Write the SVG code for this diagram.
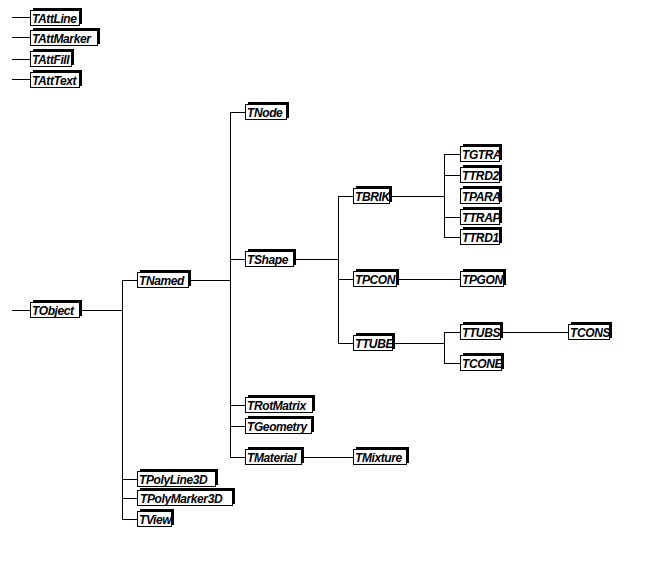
<svg xmlns="http://www.w3.org/2000/svg" width="645" height="573" viewBox="0 0 645 573">
<style>
.sh{fill:#000}
.bx{fill:#fff;stroke:#000;stroke-width:1}
.t{font-family:"Liberation Sans",Arial,sans-serif;font-style:italic;font-weight:bold;font-size:12px;fill:#000;letter-spacing:-0.4px}
.c{fill:none;stroke:#000;stroke-width:1}
</style>
<rect width="645" height="573" fill="#fff"/>
<g id="connectors" class="c">
<path d="M12 17.5H30M12 37.5H30M12 59.5H30M12 79.5H30"/>
<path d="M12 310.5H30M80 310.5H122.5M122.5 280V519M122 280.5H137M122 479.5H137M122 498.5H137M122 519.5H137"/>
<path d="M189 280.5H230.5M230.5 112V457M230 112.5H245M230 259.5H245M230 405.5H245M230 426.5H245M230 457.5H245M302 457.5H353"/>
<path d="M294 259.5H338.5M338.5 196V343M338 196.5H353M338 279.5H353M338 343.5H353M397 279.5H460"/>
<path d="M390 196.5H444.5M444.5 154V237M444 154.5H460M444 175.5H460M444 217.5H460M444 237.5H460"/>
<path d="M393 343.5H444.5M444.5 332V363M444 332.5H460M444 363.5H460M501 332.5H568"/>
</g>
<g id="TAttLine"><rect class="sh" x="33" y="8" width="49" height="16"/><rect class="bx" x="30.5" y="10.5" width="49" height="15"/><text class="t" x="32" y="22.5">TAttLine</text></g>
<g id="TAttMarker"><rect class="sh" x="33" y="28" width="67" height="16"/><rect class="bx" x="30.5" y="30.5" width="67" height="15"/><text class="t" x="32" y="42.5">TAttMarker</text></g>
<g id="TAttFill"><rect class="sh" x="33" y="49" width="41" height="16"/><rect class="bx" x="30.5" y="51.5" width="41" height="15"/><text class="t" x="32" y="63.5">TAttFill</text></g>
<g id="TAttText"><rect class="sh" x="33" y="70" width="49" height="16"/><rect class="bx" x="30.5" y="72.5" width="49" height="15"/><text class="t" x="32" y="84.5">TAttText</text></g>
<g id="TObject"><rect class="sh" x="33" y="300" width="49" height="16"/><rect class="bx" x="30.5" y="302.5" width="49" height="15"/><text class="t" x="32" y="314.5">TObject</text></g>
<g id="TNamed"><rect class="sh" x="140" y="270" width="51" height="16"/><rect class="bx" x="137.5" y="272.5" width="51" height="15"/><text class="t" x="139" y="284.5">TNamed</text></g>
<g id="TPolyLine3D"><rect class="sh" x="140" y="469" width="78" height="16"/><rect class="bx" x="137.5" y="471.5" width="78" height="15"/><text class="t" x="139" y="483.5">TPolyLine3D</text></g>
<g id="TPolyMarker3D"><rect class="sh" x="140" y="488" width="95" height="16"/><rect class="bx" x="137.5" y="490.5" width="95" height="15"/><text class="t" x="140" y="502.5">TPolyMarker3D</text></g>
<g id="TView"><rect class="sh" x="140" y="509" width="34" height="16"/><rect class="bx" x="137.5" y="511.5" width="34" height="15"/><text class="t" x="139" y="523.5">TView</text></g>
<g id="TNode"><rect class="sh" x="248" y="102" width="41" height="16"/><rect class="bx" x="245.5" y="104.5" width="41" height="15"/><text class="t" x="247" y="116.5">TNode</text></g>
<g id="TShape"><rect class="sh" x="248" y="249" width="48" height="16"/><rect class="bx" x="245.5" y="251.5" width="48" height="15"/><text class="t" x="247" y="263.5">TShape</text></g>
<g id="TRotMatrix"><rect class="sh" x="248" y="395" width="67" height="16"/><rect class="bx" x="245.5" y="397.5" width="67" height="15"/><text class="t" x="247" y="409.5">TRotMatrix</text></g>
<g id="TGeometry"><rect class="sh" x="248" y="416" width="66" height="16"/><rect class="bx" x="245.5" y="418.5" width="66" height="15"/><text class="t" x="247" y="430.5">TGeometry</text></g>
<g id="TMaterial"><rect class="sh" x="248" y="447" width="56" height="16"/><rect class="bx" x="245.5" y="449.5" width="56" height="15"/><text class="t" x="247" y="461.5">TMaterial</text></g>
<g id="TMixture"><rect class="sh" x="356" y="447" width="53" height="16"/><rect class="bx" x="353.5" y="449.5" width="53" height="15"/><text class="t" x="355" y="461.5">TMixture</text></g>
<g id="TBRIK"><rect class="sh" x="356" y="186" width="36" height="16"/><rect class="bx" x="353.5" y="188.5" width="36" height="15"/><text class="t" x="355" y="200.5">TBRIK</text></g>
<g id="TPCON"><rect class="sh" x="356" y="269" width="43" height="16"/><rect class="bx" x="353.5" y="271.5" width="43" height="15"/><text class="t" x="355" y="283.5">TPCON</text></g>
<g id="TTUBE"><rect class="sh" x="356" y="333" width="39" height="16"/><rect class="bx" x="353.5" y="335.5" width="39" height="15"/><text class="t" x="355" y="347.5">TTUBE</text></g>
<g id="TGTRA"><rect class="sh" x="463" y="144" width="39" height="16"/><rect class="bx" x="460.5" y="146.5" width="39" height="15"/><text class="t" x="462" y="158.5">TGTRA</text></g>
<g id="TTRD2"><rect class="sh" x="463" y="165" width="39" height="16"/><rect class="bx" x="460.5" y="167.5" width="39" height="15"/><text class="t" x="462" y="179.5">TTRD2</text></g>
<g id="TPARA"><rect class="sh" x="463" y="186" width="39" height="16"/><rect class="bx" x="460.5" y="188.5" width="39" height="15"/><text class="t" x="462" y="200.5">TPARA</text></g>
<g id="TTRAP"><rect class="sh" x="463" y="207" width="39" height="16"/><rect class="bx" x="460.5" y="209.5" width="39" height="15"/><text class="t" x="462" y="221.5">TTRAP</text></g>
<g id="TTRD1"><rect class="sh" x="463" y="227" width="39" height="16"/><rect class="bx" x="460.5" y="229.5" width="39" height="15"/><text class="t" x="462" y="241.5">TTRD1</text></g>
<g id="TPGON"><rect class="sh" x="463" y="269" width="43" height="16"/><rect class="bx" x="460.5" y="271.5" width="43" height="15"/><text class="t" x="462" y="283.5">TPGON</text></g>
<g id="TTUBS"><rect class="sh" x="463" y="322" width="40" height="16"/><rect class="bx" x="460.5" y="324.5" width="40" height="15"/><text class="t" x="462" y="336.5">TTUBS</text></g>
<g id="TCONE"><rect class="sh" x="463" y="353" width="41" height="16"/><rect class="bx" x="460.5" y="355.5" width="41" height="15"/><text class="t" x="462" y="367.5">TCONE</text></g>
<g id="TCONS"><rect class="sh" x="571" y="322" width="41" height="16"/><rect class="bx" x="568.5" y="324.5" width="41" height="15"/><text class="t" x="570" y="336.5">TCONS</text></g>
</svg>
